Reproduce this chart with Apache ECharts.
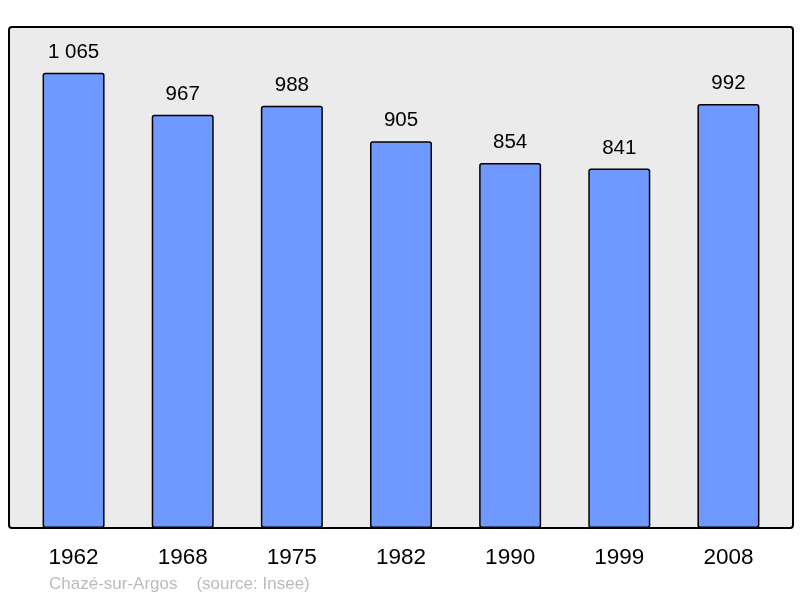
<!DOCTYPE html>
<html>
<head>
<meta charset="utf-8">
<script src="https://cdn.jsdelivr.net/npm/echarts@6/dist/echarts.min.js"></script>
<style>html,body{margin:0;padding:0;background:#fff}#c{width:800px;height:598px}</style>
</head>
<body>
<div id="c"></div>
<script>
const years = ['1962','1968','1975','1982','1990','1999','2008'];
const population = [1065, 967, 988, 905, 854, 841, 992];
const footer = 'Chazé-sur-Argos    (source: Insee)';

const chart = echarts.init(document.getElementById('c'), null, {renderer: 'canvas'});
chart.setOption({
  animation: false,
  backgroundColor: '#ffffff',
  textStyle: {fontFamily: 'Liberation Sans, Arial, sans-serif'},
  graphic: [
    {type: 'rect', z: -10, shape: {x: 9, y: 27, width: 784, height: 501, r: 3},
     style: {fill: '#ebebeb', stroke: '#000', lineWidth: 2}},
    {type: 'text', left: 49, top: 576,
     style: {text: footer, fill: '#bbbbbb', font: '17px "Liberation Sans", Arial, sans-serif'}}
  ],
  grid: {left: 19, right: 17, top: 27, bottom: 70, containLabel: false},
  xAxis: {
    type: 'category', data: years,
    axisLine: {show: false}, axisTick: {show: false},
    axisLabel: {color: '#000', fontSize: 22.5, margin: 18, fontFamily: 'Liberation Sans, Arial, sans-serif'}
  },
  yAxis: {type: 'value', min: 0, max: 1172, show: false, splitLine: {show: false}},
  series: [{
    type: 'bar', data: population, barWidth: 62,
    itemStyle: {color: '#7099ff', borderColor: '#000', borderWidth: 1.5, borderRadius: 2},
    label: {
      show: true, position: 'top', distance: 10, color: '#000', fontSize: 20.5,
      fontFamily: 'Liberation Sans, Arial, sans-serif',
      formatter: p => String(p.value).replace(/\B(?=(\d{3})+(?!\d))/g, ' ')
    }
  }]
});
</script>
</body>
</html>
